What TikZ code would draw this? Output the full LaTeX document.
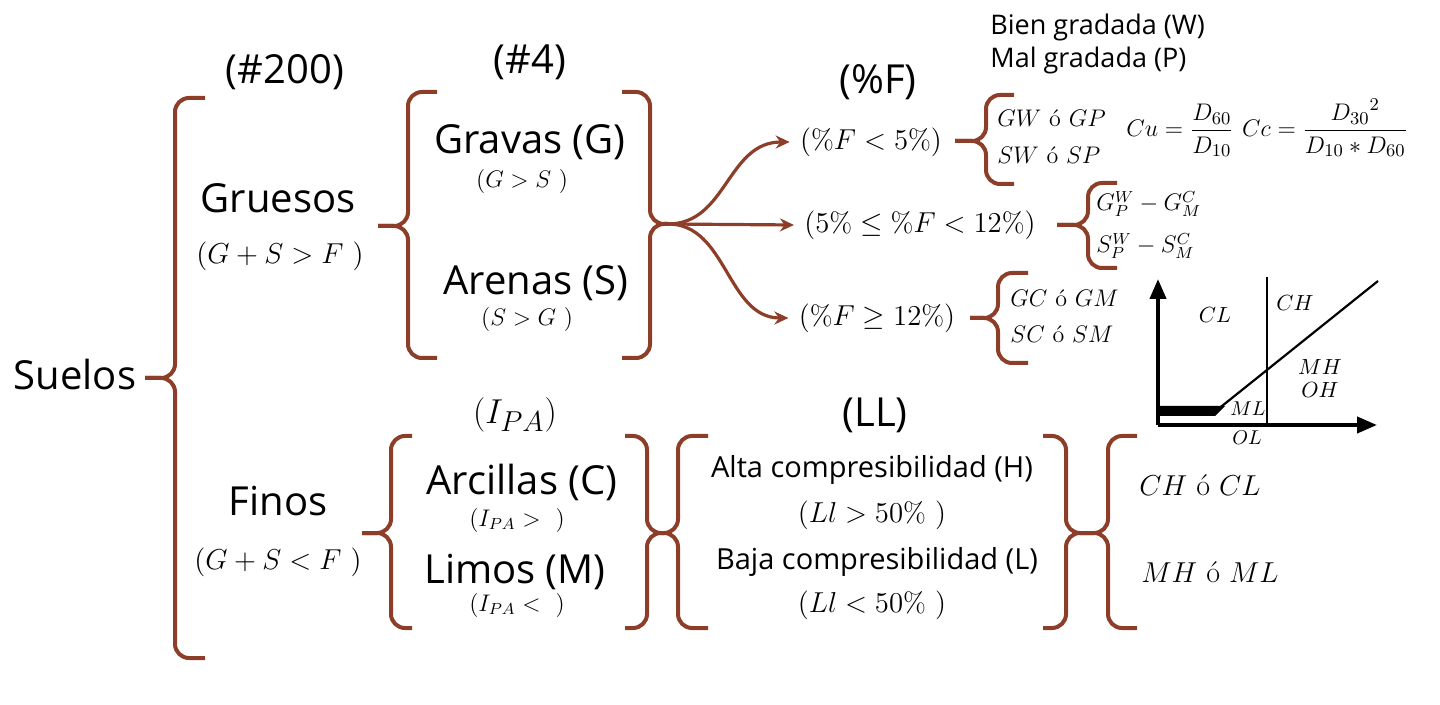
\documentclass[tikz,border=0pt]{standalone}
\usepackage{amsmath}
\usepackage{fontspec}
\newfontfamily\sansf{Open Sans}
\usetikzlibrary{arrows.meta}
\definecolor{br}{RGB}{140,62,40}
\newcommand\bkt[6]{%
  \draw[brk] (#1,#4) -- (#2,#4) -- (#2,#5) -- (#3,#5);
  \draw[brk] (#3,#5) -- (#2,#5) -- (#2,#6) -- (#1,#6);}
\tikzset{
  brk/.style={draw=br, line width=2pt, rounded corners=7pt},
  big/.style={font=\sansf\fontsize{20}{24}\selectfont, inner sep=0pt},
  midt/.style={font=\sansf\fontsize{13.5}{16}\selectfont, inner sep=0pt},
  mth/.style={font=\fontsize{14}{17}\selectfont, inner sep=0pt},
  smth/.style={font=\fontsize{11.5}{14}\selectfont, inner sep=0pt},
  cls/.style={font=\fontsize{12}{14}\selectfont, inner sep=0pt, anchor=west},
  arr/.style={draw=br, line width=1.6pt, -{Stealth[length=7pt,width=6.5pt]}},
  axis/.style={line width=2pt, -{Triangle[length=10pt,width=8pt]}},
  chl/.style={font=\fontsize{11}{13}\selectfont, inner sep=0pt},
}
\begin{document}
\begin{tikzpicture}[x=0.5pt,y=-0.5pt]
\useasboundingbox (0,0) rectangle (1440,705);

% headings
\node[big] (n200) at (285,72) {(\#200)};
\node[big] (n4) at (530,62) {(\#4)};
\node[big] (pf) at (878,82) {(\%F)};
\node[font=\fontsize{19}{22}\selectfont, inner sep=0pt] (ipa) at (515,415) {$(I_{PA})$};
\node[big] (ll) at (875,415) {(LL)};

% left column
\node[big] (suelos) at (75,375) {Suelos};
\bkt{205}{175}{145}{98}{378}{658}
\node[big] (gru) at (278,198) {Gruesos};
\node[mth] (gruc) at (280,256) {$(G+S>F\ )$};
\node[big] (fin) at (278,501) {Finos};
\node[mth] (finc) at (278,562) {$(G+S<F\ )$};

% coarse
\bkt{437}{408}{378}{92}{226}{358}
\node[big] (grav) at (530,142) {Gravas (G)};
\node[smth] (gravc) at (522,182) {$(G>S\ )$};
\node[big] (aren) at (536,283) {Arenas (S)};
\node[smth] (arenc) at (527,320) {$(S>G\ )$};
\bkt{622}{650}{668}{92}{224}{358}
\coordinate (j) at (668,224);

% %F branches
\node[mth] (f1) at (871,142) {$(\%F<5\%)$};
\node[mth] (f2) at (920,225) {$(5\%\leq\%F<12\%)$};
\node[mth] (f3) at (877,318) {$(\%F\geq12\%)$};
\draw[arr] (j) .. controls (727,224) and (727,142) .. ([xshift=-5pt]f1.west);
\draw[arr] (j) -- ([xshift=-5pt]f2.west);
\draw[arr] (j) .. controls (727,224) and (727,318) .. ([xshift=-5pt]f3.west);

\bkt{1014}{986}{955}{95}{141}{184}
\node[cls] (gw) at (997,118) {$GW\ \textrm{ó}\ GP$};
\node[cls] (sw) at (997,155) {$SW\ \textrm{ó}\ SP$};
\node[font=\fontsize{13}{15}\selectfont, inner sep=0pt, anchor=west] (cu) at (1126,128)
  {$Cu=\dfrac{D_{60}}{D_{10}}\ Cc=\dfrac{{D_{30}}^{2}}{D_{10}*D_{60}}$};
\node[midt, anchor=west] (bien) at (990,27) {Bien gradada (W)};
\node[midt, anchor=west] (mal) at (990,60) {Mal gradada (P)};

\bkt{1117}{1088}{1057}{183}{225}{268}
\node[cls] (gpw) at (1096,204) {$G_P^W-G_M^C$};
\node[cls] (spw) at (1096,246) {$S_P^W-S_M^C$};

\bkt{1028}{998}{970}{273}{318}{363}
\node[cls] (gc) at (1010,298) {$GC\ \textrm{ó}\ GM$};
\node[cls] (sc) at (1010,334) {$SC\ \textrm{ó}\ SM$};

% plasticity chart
\coordinate (O) at (1158,425);
\draw[axis] (O) -- (1158,279);
\draw[axis] (O) -- (1377,425);
\draw[line width=1pt] (1267,277) -- (1267,425);
\draw[line width=1.1pt] (1217,410) -- (1378,281);
\fill (1158,406) -- (1225,406) -- (1215,416) -- (1158,416) -- cycle;
\node[chl] (cl) at (1215,315) {$CL$};
\node[chl] (ch) at (1295,303) {$CH$};
\node[chl] (mh) at (1320,367) {$MH$};
\node[chl] (oh) at (1320,390) {$OH$};
\node[font=\fontsize{10}{12}\selectfont, inner sep=0pt] (ml) at (1248,409) {$ML$};
\node[font=\fontsize{10}{12}\selectfont, inner sep=0pt] (ol) at (1247,438) {$OL$};

% fine
\bkt{412}{391}{362}{436}{533}{628}
\node[big] (arc) at (522,482) {Arcillas (C)};
\node[smth] (arcc) at (517,520) {$(I_{PA}>\ \ )$};
\node[big] (lim) at (515,572) {Limos (M)};
\node[smth] (limc) at (517,605) {$(I_{PA}<\ \ )$};
\bkt{625}{647}{662}{436}{533}{628}
\bkt{708}{678}{662}{436}{533}{628}
\node[midt, font=\sansf\fontsize{14.5}{17}\selectfont] (alta) at (872,470) {Alta compresibilidad (H)};
\node[mth] (altac) at (872,515) {$(Ll>50\%\ )$};
\node[midt, font=\sansf\fontsize{14.5}{17}\selectfont] (baja) at (877,562) {Baja compresibilidad (L)};
\node[mth] (bajac) at (872,605) {$(Ll<50\%\ )$};
\bkt{1043}{1066}{1087}{436}{533}{628}
\bkt{1137}{1108}{1087}{436}{533}{628}
\node[font=\fontsize{15}{18}\selectfont, inner sep=0pt] (chcl) at (1200,485) {$CH\ \textrm{ó}\ CL$};
\node[font=\fontsize{15}{18}\selectfont, inner sep=0pt] (mhml) at (1210,572) {$MH\ \textrm{ó}\ ML$};
\end{tikzpicture}
\end{document}
